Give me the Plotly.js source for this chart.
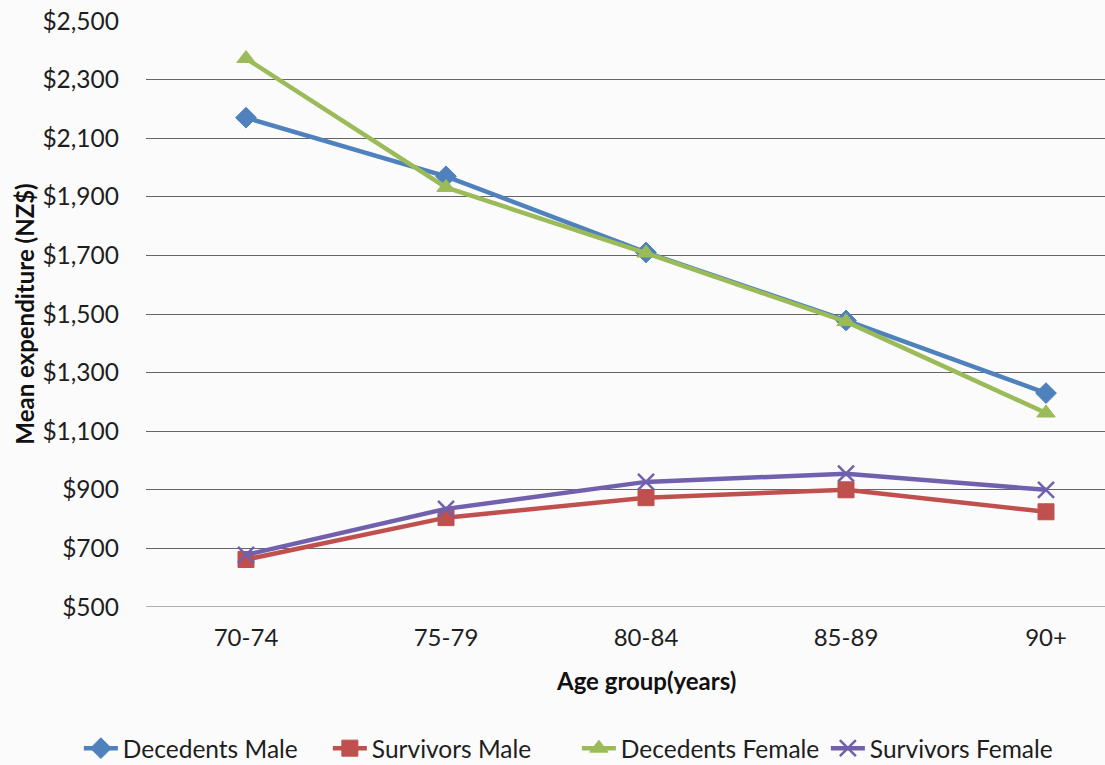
<!DOCTYPE html>
<html>
<head>
<meta charset="utf-8">
<script src="https://cdn.plot.ly/plotly-3.0.1.min.js"></script>
<style>
  html, body { margin: 0; padding: 0; background: #fbfbfb; }
  #chart { width: 1105px; height: 765px; }
</style>
</head>
<body>
<div id="chart"></div>
<script>
// Mean 12-month expenditure by age group (NZ$)
const ageGroups = ['70-74', '75-79', '80-84', '85-89', '90+'];
const decedentsMale = [2170, 1970, 1710, 1478, 1230];
const survivorsMale = [662, 805, 873, 900, 825];
const decedentsFemale = [2372, 1932, 1708, 1474, 1162];
const survivorsFemale = [678, 835, 927, 955, 900];

const seriesNames = ['Decedents Male', 'Survivors Male', 'Decedents Female', 'Survivors Female'];
const seriesColors = ['#4F81BD', '#C0504D', '#9BBB59', '#7060AE'];
const seriesSymbols = ['diamond', 'square', 'triangle-up', 'x-thin'];
const seriesValues = [decedentsMale, survivorsMale, decedentsFemale, survivorsFemale];

const FONT = 'Lato, "Open Sans", sans-serif';
const TEXT = '#1e1e1e';

const traces = seriesValues.map((vals, i) => ({
  type: 'scatter',
  mode: 'lines+markers',
  name: seriesNames[i],
  x: ageGroups.map((_, k) => k),
  y: vals,
  line: { color: seriesColors[i], width: 4.5 },
  marker: {
    symbol: seriesSymbols[i],
    size: 16,
    color: seriesColors[i],
    line: { color: seriesColors[i], width: seriesSymbols[i] === 'x-thin' ? 2.5 : 1 }
  }
}));

const layout = {
  width: 1105,
  height: 765,
  paper_bgcolor: '#fbfbfb',
  plot_bgcolor: 'rgba(0,0,0,0)',
  margin: { l: 146, r: 0, t: 21, b: 158, autoexpand: false },
  font: { family: FONT, size: 24, color: TEXT },
  showlegend: true,
  legend: {
    orientation: 'h',
    x: -0.07, xanchor: 'left',
    y: -0.241, yanchor: 'middle',
    font: { family: FONT, size: 24.5, color: TEXT },
    itemwidth: 34,
    entrywidth: 200,
    entrywidthmode: 'pixels',
    traceorder: 'normal'
  },
  xaxis: {
    type: 'linear',
    range: [-0.5, 4.295],
    tickmode: 'array',
    tickvals: ageGroups.map((_, k) => k),
    ticktext: ageGroups,
    showgrid: false,
    zeroline: false,
    showline: false,
    ticks: '',
    ticklabelstandoff: 14,
    tickfont: { family: FONT, size: 24, color: TEXT },
    fixedrange: true
  },
  yaxis: {
    range: [500, 2500],
    tick0: 500,
    dtick: 200,
    tickprefix: '$',
    tickformat: ',d',
    showgrid: true,
    gridcolor: '#666666',
    gridwidth: 1,
    zeroline: false,
    showline: false,
    ticks: '',
    ticklabelstandoff: 26,
    tickfont: { family: FONT, size: 24.5, color: TEXT },
    title: {
      text: 'Mean expenditure (NZ$)',
      font: { family: FONT, size: 24, color: '#111', weight: 'bold' },
      standoff: 0
    },
    fixedrange: true
  },
  shapes: [{
    // baseline gridline at the bottom of the value range
    type: 'line', xref: 'paper', yref: 'y',
    x0: 0, x1: 1, y0: 500, y1: 500,
    line: { color: '#666666', width: 1 },
    layer: 'below'
  }],
  annotations: [{
    text: 'Age group(years)',
    xref: 'x', yref: 'paper',
    x: 2, y: -0.125,
    xanchor: 'center', yanchor: 'middle',
    showarrow: false,
    font: { family: FONT, size: 24, color: '#111', weight: 'bold' }
  }]
};

Plotly.newPlot('chart', traces, layout, { displayModeBar: false, staticPlot: true });
</script>
</body>
</html>
